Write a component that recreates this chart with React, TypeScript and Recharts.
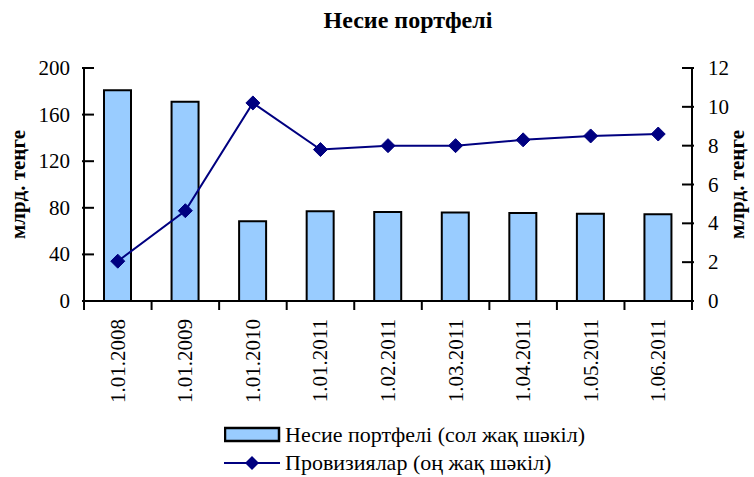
import { Bar, ComposedChart, Legend, Line, XAxis, YAxis } from "recharts";

const dates = ["1.01.2008", "1.01.2009", "1.01.2010", "1.01.2011", "1.02.2011", "1.03.2011", "1.04.2011", "1.05.2011", "1.06.2011"];
const portfolio = [181, 171, 68.5, 77, 76.5, 76, 75.5, 75, 74.5];
const provisions = [2.05, 4.65, 10.2, 7.8, 8.0, 8.0, 8.3, 8.5, 8.6];
const leftTicks = [0, 40, 80, 120, 160, 200];
const rightTicks = [0, 2, 4, 6, 8, 10, 12];

const data = dates.map((date, i) => ({ date, portfolio: portfolio[i], provisions: provisions[i] }));

const font = "'Times New Roman', 'Liberation Serif', 'DejaVu Serif', serif";
const navy = "#000080";
const barFill = "#99CCFF";
const band = 67.5;

function LeftTick(props: any) {
  const { x, y, payload } = props;
  return (
    <g>
      <line x1={x + 6} x2={x + 18} y1={y} y2={y} stroke="#000" strokeWidth={2} />
      <text x={x - 6} y={y} dy={7} textAnchor="end" style={{ fontFamily: font, fontSize: 21 }} fill="#000">{payload.value}</text>
    </g>
  );
}

function RightTick(props: any) {
  const { x, y, payload } = props;
  return (
    <g>
      <line x1={x - 18} x2={x - 6} y1={y} y2={y} stroke="#000" strokeWidth={2} />
      <text x={x + 8} y={y} dy={7} textAnchor="start" style={{ fontFamily: font, fontSize: 21 }} fill="#000">{payload.value}</text>
    </g>
  );
}

function DateTick(props: any) {
  const { x, y, payload, index } = props;
  const top = y - 8;
  return (
    <g>
      <line x1={x - band / 2} x2={x - band / 2} y1={top} y2={top + 9} stroke="#000" strokeWidth={2} />
      {index === dates.length - 1 && (
        <line x1={x + band / 2} x2={x + band / 2} y1={top} y2={top + 9} stroke="#000" strokeWidth={2} />
      )}
      <text
        transform={`translate(${x + 7},${top + 18}) rotate(-90)`}
        textAnchor="end"
        style={{ fontFamily: font, fontSize: 21 }}
        fill="#000"
      >
        {payload.value}
      </text>
    </g>
  );
}

function Diamond(props: any) {
  const { cx, cy } = props;
  if (cx == null || cy == null) return null;
  const r = 7;
  return <polygon points={`${cx},${cy - r} ${cx + r},${cy} ${cx},${cy + r} ${cx - r},${cy}`} fill={navy} stroke={navy} />;
}

function AxisName(side: "left" | "right") {
  return (props: any) => {
    const vb = props.viewBox;
    const x = side === "left" ? 25 : 744;
    const cy = vb.y + vb.height / 2;
    return (
      <text
        transform={`translate(${x},${cy}) rotate(-90)`}
        textAnchor="middle"
        style={{ fontFamily: font, fontSize: 21, fontWeight: "bold" }}
        fill="#000"
      >
        млрд. теңге
      </text>
    );
  };
}

function LegendBox() {
  return (
    <div style={{ fontFamily: font, fontSize: 22, color: "#000", lineHeight: "28px" }}>
      <div style={{ display: "flex", alignItems: "center" }}>
        <svg width={61} height={20}>
          <rect x={1} y={3} width={54} height={13} fill={barFill} stroke="#000" strokeWidth={2.5} />
        </svg>
        <span>Несие портфелі (сол жақ шәкіл)</span>
      </div>
      <div style={{ display: "flex", alignItems: "center" }}>
        <svg width={61} height={20}>
          <line x1={0} x2={56} y1={10} y2={10} stroke={navy} strokeWidth={2} />
          <polygon points="28,3 35,10 28,17 21,10" fill={navy} />
        </svg>
        <span>Провизиялар (оң жақ шәкіл)</span>
      </div>
    </div>
  );
}

export default function App() {
  return (
    <div style={{ position: "absolute", left: 0, top: 0, width: 754, height: 477, background: "#fff" }}>
      <div
        style={{
          position: "absolute",
          left: 258,
          width: 300,
          top: 7,
          textAlign: "center",
          fontFamily: font,
          fontWeight: "bold",
          fontSize: 24,
        }}
      >
        Несие портфелі
      </div>
      <ComposedChart
        width={754}
        height={477}
        data={data}
        margin={{ top: 68, right: 0, bottom: 10, left: 0 }}
        barCategoryGap={0}
      >
        <XAxis
          dataKey="date"
          xAxisId="x"
          height={110}
          tick={<DateTick />}
          tickLine={false}
          interval={0}
          axisLine={{ stroke: "#000", strokeWidth: 2 }}
        />
        <YAxis
          yAxisId="left"
          width={84}
          domain={[0, 200]}
          ticks={leftTicks}
          tick={<LeftTick />}
          tickLine={false}
          axisLine={{ stroke: "#000", strokeWidth: 2 }}
          label={AxisName("left")}
        />
        <YAxis
          yAxisId="right"
          orientation="right"
          width={62}
          domain={[0, 12]}
          ticks={rightTicks}
          tick={<RightTick />}
          tickLine={false}
          axisLine={{ stroke: "#000", strokeWidth: 2 }}
          label={AxisName("right")}
        />
        <Bar
          dataKey="portfolio"
          xAxisId="x"
          yAxisId="left"
          barSize={27}
          fill={barFill}
          stroke="#000"
          strokeWidth={2}
          isAnimationActive={false}
        />
        <Line
          dataKey="provisions"
          xAxisId="x"
          yAxisId="right"
          stroke={navy}
          strokeWidth={2}
          dot={<Diamond />}
          activeDot={false}
          isAnimationActive={false}
        />
        <Legend
          content={<LegendBox />}
          wrapperStyle={{ left: 224, top: 421, width: 420 }}
        />
      </ComposedChart>
    </div>
  );
}
